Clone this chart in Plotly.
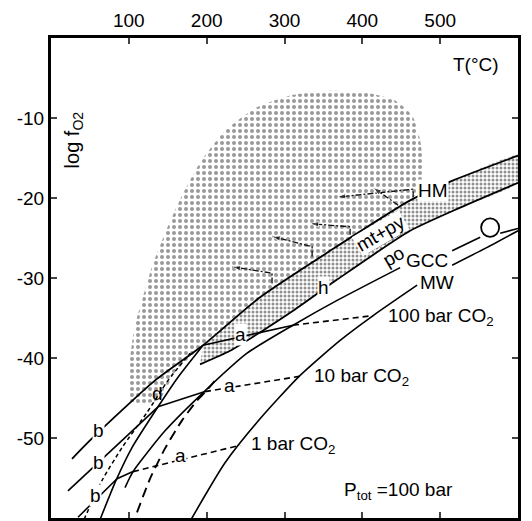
import plotly.graph_objects as go

# ---------------- axis ticks ----------------
t_ticks = [100, 200, 300, 400, 500]
f_ticks = [-10, -20, -30, -40, -50]
f_ticktext = ["-10", "-20", "-30", "-40", "-50"]

# ---------------- fields ----------------
# stippled cloud (ore-fluid field)
cloud_T = [101.5, 101.5, 108.0, 118.2, 131.1, 149.1, 168.4, 191.5, 223.6, 262.2, 307.2, 358.6,
           403.6, 442.1, 464.0, 474.3, 478.1, 476.8, 461.4, 358.6, 268.6, 195.4, 159.4, 140.1, 120.8, 101.5]
cloud_f = [-45.3, -40.3, -35.9, -32.4, -28.2, -23.8, -19.7, -15.6, -11.6, -8.8, -7.2, -6.6,
           -6.8, -7.8, -9.7, -12.8, -15.9, -18.4, -20.3, -26.6, -32.4, -38.4, -41.8, -45.1, -45.7, -45.3]

# upper boundary of dotted band, continued to lower left as line b (100 bar)
lineA_T = [27.0, 50.1, 133.7, 195.4, 268.6, 358.6, 461.4, 516.7, 600.0]
lineA_f = [-52.6, -50.3, -42.8, -38.4, -32.4, -26.6, -20.3, -17.8, -14.7]
# lower boundary of dotted band (h)
bandlow_T = [191.5, 230.1, 268.6, 311.0, 367.6, 461.4, 525.7, 600.0]
bandlow_f = [-40.8, -39.1, -36.8, -34.1, -30.2, -24.1, -21.2, -18.1]

# ---------------- buffer curves ----------------
gcc_T = [95.1, 105.4, 146.5, 197.9, 251.9, 311.0, 367.6, 448.6]
gcc_f = [-56.2, -54.2, -49.1, -44.1, -39.4, -35.9, -32.8, -28.7]
gcc2_T = [515.4, 551.4]
gcc2_f = [-26.6, -24.9]
gcc3_T = [577.1, 600.0]
gcc3_f = [-24.4, -23.8]

mw_T = [179.9, 223.6, 268.6, 318.8, 371.5, 413.9, 470.4]
mw_f = [-60.2, -53.1, -47.6, -42.3, -37.8, -34.7, -30.9]
mw2_T = [515.4, 557.8, 600.0]
mw2_f = [-28.4, -26.3, -24.1]

# steep solid line through the b/a junctions
lineD_T = [63.0, 83.5, 104.1, 137.5, 163.2, 195.4]
lineD_f = [-60.2, -55.3, -51.2, -46.1, -42.4, -38.4]
# short-dashed line left of it
lineF_T = [42.4, 65.6, 91.3, 123.4, 150.4, 178.7]
lineF_f = [-60.2, -55.3, -51.2, -46.8, -42.8, -39.4]
# long-dashed line
lineG_T = [110.5, 127.2, 146.5, 168.4, 187.7, 197.9, 210.8]
lineG_f = [-59.3, -55.1, -51.3, -47.8, -45.3, -44.3, -42.8]

# b lines (10 bar, 1 bar)
b10_T = [21.8, 137.5]
b10_f = [-56.6, -46.1]
b1_T = [34.7, 84.8]
b1_f = [-59.9, -55.1]

# a lines: solid part and dashed (metastable) part
a100_T = [195.4, 311.0]
a100_f = [-38.4, -35.9]
a100d_T = [311.0, 413.9]
a100d_f = [-35.9, -34.7]
a10_T = [137.5, 197.9]
a10_f = [-46.1, -44.2]
a10d_T = [197.9, 318.8]
a10d_f = [-44.2, -42.3]
a1_T = [84.8, 105.4]
a1_f = [-55.1, -54.2]
a1d_T = [105.4, 243.0]
a1d_f = [-54.2, -50.9]

# dash-dot evolution paths with arrows in the cloud
paths = [
    ([284.0, 284.0, 232.6], [-30.7, -29.4, -28.6]),
    ([335.5, 335.5, 284.0], [-27.3, -26.1, -24.8]),
    ([384.3, 384.3, 332.9], [-24.6, -23.6, -23.2]),
    ([465.3, 465.3, 367.6], [-19.9, -18.9, -19.9]),
    ([446.0, 413.9], [-20.9, -18.7]),
]

fig = go.Figure()

fig.add_trace(go.Scatter(x=cloud_T, y=cloud_f, mode="lines", fill="toself",
                         line=dict(width=0, shape="spline", smoothing=0.6),
                         fillcolor="white",
                         fillpattern=dict(shape=".", size=6, solidity=0.35, fgcolor="#333", bgcolor="white"),
                         hoverinfo="skip", showlegend=False))

band_T = lineA_T[3:] + bandlow_T[::-1]
band_f = lineA_f[3:] + bandlow_f[::-1]
fig.add_trace(go.Scatter(x=band_T, y=band_f, mode="lines", fill="toself",
                         line=dict(width=0, shape="spline", smoothing=0.5),
                         fillcolor="white",
                         fillpattern=dict(shape=".", size=4, solidity=0.45, fgcolor="#222", bgcolor="white"),
                         hoverinfo="skip", showlegend=False))


def line(x, y, dash="solid", width=1.6):
    fig.add_trace(go.Scatter(x=x, y=y, mode="lines",
                             line=dict(color="black", width=width, dash=dash, shape="spline", smoothing=0.6),
                             hoverinfo="skip", showlegend=False))


line(lineA_T, lineA_f, width=1.8)
line(bandlow_T, bandlow_f, width=1.8)
line(gcc_T, gcc_f)
line(gcc2_T, gcc2_f)
line(gcc3_T, gcc3_f)
line(mw_T, mw_f)
line(mw2_T, mw2_f)
line(lineD_T, lineD_f)
line(lineF_T, lineF_f, dash="4px,3px", width=1.5)
line(lineG_T, lineG_f, dash="10px,6px", width=1.9)
line(b10_T, b10_f)
line(b1_T, b1_f)
line(a100_T, a100_f)
line(a100d_T, a100d_f, dash="6px,4px")
line(a10_T, a10_f)
line(a10d_T, a10d_f, dash="6px,4px")
line(a1_T, a1_f)
line(a1d_T, a1d_f, dash="6px,4px")

for px_, py_ in paths:
    n = len(px_)
    fig.add_trace(go.Scatter(x=px_, y=py_, mode="lines+markers",
                             line=dict(color="#111", width=1.3, dash="6px,2px,2px,2px"),
                             marker=dict(symbol=["circle"] * (n - 1) + ["arrow"], size=[0] * (n - 1) + [9],
                                         angleref="previous", color="#111"),
                             hoverinfo="skip", showlegend=False))

# circle symbol
fig.add_shape(type="circle", xref="x", yref="y", x0=564.2 - 11.6, x1=564.2 + 11.6,
              y0=-23.7 - 1.15, y1=-23.7 + 1.15, line=dict(color="black", width=1.8), fillcolor="white")
# fraction bar of mt+py / po
fig.add_shape(type="line", xref="x", yref="y", x0=407.4, y0=-26.8, x1=452.4, y1=-24.3,
              line=dict(color="black", width=1.6))

FONT = "Liberation Sans"


def label(x, y, text, size=19, bg=None, angle=0, xanchor="center"):
    fig.add_annotation(x=x, y=y, xref="x", yref="y", text=text, showarrow=False,
                       font=dict(family=FONT, size=size, color="black"), textangle=angle,
                       xanchor=xanchor, yanchor="middle",
                       bgcolor=bg if bg else "rgba(0,0,0,0)", borderpad=0)


label(60.4, -49.1, "b", bg="white")
label(60.4, -53.1, "b", bg="white")
label(56.6, -57.2, "b", bg="white")
label(242.9, -37.1, "a", bg="white")
label(228.8, -43.4, "a", bg="white")
label(165.8, -52.2, "a", bg="white")
label(136.2, -44.4, "d")
label(349.6, -31.2, "h", bg="white")
label(491.0, -19.1, "HM", bg="white")
label(422.9, -24.4, "mt+py", bg="white", angle=-30)
label(439.6, -27.3, "po", angle=-30)
label(483.3, -27.8, "GCC", bg="white")
label(496.1, -30.6, "MW", bg="white")
label(431.9, -34.9, "100 bar CO<sub>2</sub>", xanchor="left")
label(336.7, -42.4, "10 bar CO<sub>2</sub>", xanchor="left")
label(255.8, -50.9, "1 bar CO<sub>2</sub>", xanchor="left")
label(375.3, -56.6, "P<sub>tot</sub> =100 bar", xanchor="left")
label(577.1, -3.3, "T(°C)", xanchor="right")
label(28.3, -12.8, "log f<sub>O2</sub>", size=20, angle=-90)

# page body adds an 8 px margin, so the figure is sized to keep the frame where the reference has it
fig.update_layout(
    width=524, height=513,
    margin=dict(l=43, r=14, t=30, b=3, autoexpand=False),
    paper_bgcolor="white", plot_bgcolor="white",
    font=dict(family=FONT, size=19, color="black"),
    xaxis=dict(range=[0, 600], side="top", tickvals=t_ticks, ticks="inside", ticklen=6, tickwidth=2,
               showline=True, linewidth=3, linecolor="black", mirror="ticks", automargin=False,
               showgrid=False, zeroline=False, tickfont=dict(family=FONT, size=19)),
    yaxis=dict(range=[-60, 0], tickvals=f_ticks, ticktext=f_ticktext, ticks="inside", ticklen=6,
               tickwidth=2, showline=True, linewidth=3, linecolor="black", mirror="ticks", automargin=False,
               showgrid=False, zeroline=False, tickfont=dict(family=FONT, size=19)),
)

fig.write_html("out.html")
